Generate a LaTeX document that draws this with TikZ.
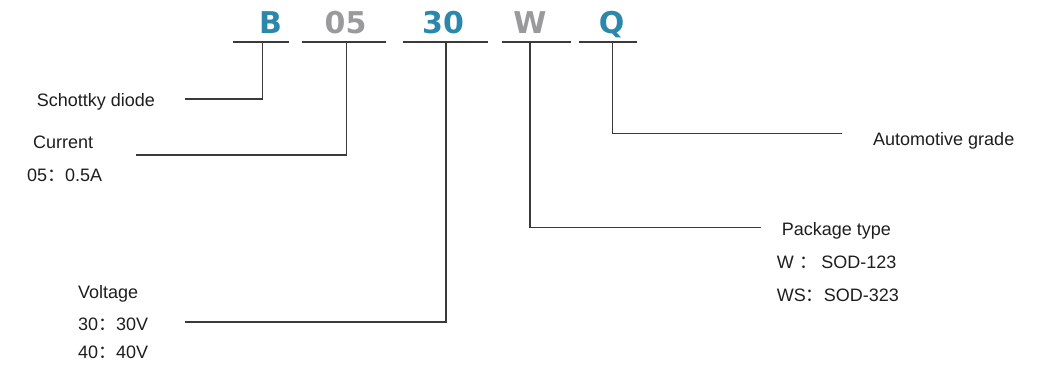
\documentclass[tikz,border=0pt]{standalone}
\usepackage{fontspec}
\setmainfont{Liberation Sans}
\newfontfamily\cjk{Noto Sans CJK SC}
\newfontfamily\heavy{DejaVu Sans}
\definecolor{codeblue}{HTML}{2C87AD}
\definecolor{codegray}{HTML}{9A9A9C}
\definecolor{leadgray}{HTML}{3A3A3A}
\definecolor{txtgray}{HTML}{1E1E1E}
\newcommand\fcol{{\cjk ：}}
\begin{document}
\begin{tikzpicture}[x=1pt,y=-1pt,
  code/.style={anchor=base,inner sep=0pt,font=\heavy\bfseries\fontsize{30}{30}\selectfont},
  txt/.style={anchor=base west,inner sep=0pt,text=txtgray,font=\fontsize{18}{20}\selectfont},
  bar/.style={line width=2.2pt,draw=leadgray},
  lead/.style={line width=1.1pt,draw=leadgray}]
\useasboundingbox (0,0) rectangle (1060,373);
\node[code,text=codeblue] (B) at (270.5,33.3) {B};
\node[code,text=codegray] (I) at (345.5,33.3) {05};
\node[code,text=codeblue] (V) at (443,33.3) {30};
\node[code,text=codegray] (P) at (530,33.3) {W};
\node[code,text=codeblue] (Q) at (611.5,33.3) {Q};
\draw[bar] (233,41.7) -- (289,41.7);
\draw[bar] (301.7,41.7) -- (385.7,41.7);
\draw[bar] (403,41.7) -- (487.7,41.7);
\draw[bar] (502,41.7) -- (571,41.7);
\draw[bar] (579,41.7) -- (637,41.7);
\coordinate (B-tick) at (262.7,42);
\coordinate (I-tick) at (346.7,42);
\coordinate (V-tick) at (446,42);
\coordinate (P-tick) at (530,42);
\coordinate (Q-tick) at (612.3,42);
\coordinate (B-end) at (185,99);
\coordinate (I-end) at (136,155);
\coordinate (V-end) at (185,322);
\coordinate (P-end) at (760.7,227.3);
\coordinate (Q-end) at (841.7,133.3);
\node[txt] (diode) at (36.7,106.7) {Schottky diode};
\node[txt] (cur) at (33,148.3) {Current};
\node[txt] (cur1) at (27,181.7) {05\fcol 0.5A};
\node[txt] (volt) at (78,298.3) {Voltage};
\node[txt] (volt1) at (78,330) {30\fcol 30V};
\node[txt] (volt2) at (78,358.3) {40\fcol 40V};
\node[txt] (pkg) at (781.7,235.7) {Package type};
\node[txt] (pkg1) at (776.7,268.3) {W\hspace{6pt}\fcol\hspace{3.5pt}SOD-123};
\node[txt] (pkg2) at (776.7,301.7) {WS\fcol SOD-323};
\node[txt] (auto) at (873,145) {Automotive grade};
\draw[lead] (B-tick) |- (B-end);
\draw[lead] (I-tick) |- (I-end);
\draw[lead] (V-tick) |- (V-end);
\draw[lead] (P-tick) |- (P-end);
\draw[lead] (Q-tick) |- (Q-end);
\end{tikzpicture}
\end{document}
